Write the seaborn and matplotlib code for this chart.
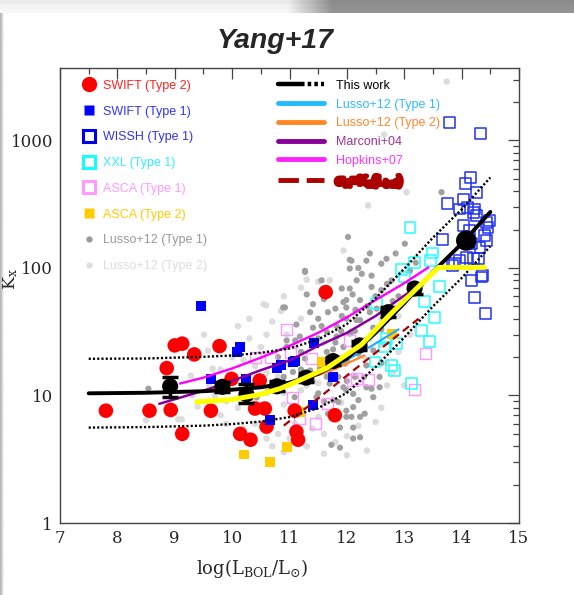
import numpy as np
import pandas as pd
import matplotlib
matplotlib.use("Agg")
import matplotlib.pyplot as plt
import seaborn as sns
from matplotlib.lines import Line2D
from matplotlib.legend_handler import HandlerTuple
import matplotlib.patheffects as pe

# ---------------- data ----------------
swift2_logL = [7.80, 8.56, 8.93, 9.13, 8.86, 9.00, 9.13, 9.34, 9.63, 9.78, 9.99, 10.48,
               10.40, 10.57, 10.60, 10.14, 10.32, 11.09, 11.12, 11.15, 11.79, 11.63]
swift2_K = [7.6, 7.6, 7.7, 5.0, 16.4, 24.7, 25.5, 21.0, 7.6, 24.4, 13.5, 13.1,
            7.9, 7.9, 5.7, 5.0, 4.5, 7.6, 5.2, 4.5, 7.0, 64.7]

swift1_logL = [9.45, 9.64, 10.08, 10.14, 10.25, 10.78, 10.86, 11.06, 11.09, 11.43, 11.76, 10.66, 11.41]
swift1_K = [50, 13.5, 21.8, 23.9, 13.5, 16.5, 17.2, 18.3, 18.8, 26, 13.9, 6.4, 8.4]

wissh_logL = [13.79, 14.33, 14.16, 14.07, 14.26, 13.76, 14.03, 14.11, 13.97, 14.23, 14.26, 14.49,
              14.46, 14.03, 14.40, 14.43, 14.14, 13.67, 14.08, 14.32, 14.17, 13.88, 14.20, 14.35,
              14.17, 14.37, 14.23, 14.42, 13.84, 14.43, 14.20, 13.97, 14.29]
wissh_K = [1390, 1137, 509, 457, 393, 318, 347, 300, 290, 290, 257, 236,
           209, 214, 180, 164, 197, 166, 121, 144, 155, 108, 118, 85,
           80, 87, 59, 44, 104, 229, 274, 114, 118]

xxl_logL = [13.10, 13.49, 13.18, 13.45, 13.62, 13.53, 13.01, 12.52, 13.36, 12.95, 12.66,
            12.86, 13.30, 13.44, 13.12, 12.77, 12.83, 12.49, 12.69]
xxl_K = [209, 131, 111, 115, 72, 41, 85, 53, 55, 98, 24,
         25.5, 32.4, 26.3, 12.5, 17.2, 15.7, 18.3, 27.9]

asca1_logL = [10.94, 10.40, 10.67, 11.01, 11.05, 11.38, 12.05, 12.10, 11.67, 11.45, 11.18,
              12.37, 12.16, 13.37, 13.18]
asca1_K = [33, 20, 20, 21.9, 9.7, 19.4, 27, 13.1, 8.6, 6.0, 6.6, 13.4, 13.5, 21.5, 11.1]

asca2_logL = [10.21, 10.66, 10.95, 11.18, 11.56, 12.78]
asca2_K = [3.45, 3.0, 3.94, 7.4, 18.3, 30.5]

lusso1_logL = [12.02, 13.01, 12.08, 12.34, 12.60, 12.69, 12.05, 12.26, 12.43, 12.78, 11.27, 11.56,
               11.91, 12.17, 11.70, 12.43, 12.60, 11.99, 12.23, 11.41, 10.92, 12.52, 11.67, 11.91,
               12.17, 11.12, 11.41, 11.65, 12.46, 11.18, 11.41, 11.82, 12.08, 10.95, 11.94, 11.65,
               11.27, 12.20, 11.97, 11.53, 12.34, 11.06, 11.85, 12.14, 11.33, 11.70, 12.34, 11.99,
               11.50, 11.01, 11.09, 11.85, 12.20, 12.46, 11.38, 11.99, 12.31, 11.67, 12.11, 11.99,
               12.23, 12.11, 12.23, 11.88, 12.43, 12.57, 11.36, 11.94, 11.67, 12.05, 11.56, 11.82,
               11.99, 12.14, 10.95, 11.76, 12.17, 11.36, 11.65, 11.94, 12.11, 11.47, 11.76, 12.08,
               11.88, 11.73, 12.11, 10.37, 10.43, 10.75, 12.05, 11.27, 10.89, 13.65, 8.54, 12.57,
               12.46, 12.05, 12.23, 11.99, 12.90, 12.75, 13.20, 12.85,
               11.20, 11.50, 11.80, 12.00, 12.30, 12.40, 11.60, 11.30, 11.80, 12.10, 12.50, 12.70,
               12.20, 12.40, 11.10, 10.80, 11.40, 11.60, 12.00, 12.30, 12.60, 12.60, 12.80, 13.10,
               11.20, 10.90, 11.90, 11.50, 12.35, 12.15]
lusso1_K = [175, 155, 114, 114, 108, 118, 99, 90, 87, 80, 95, 80,
            69, 80, 63, 71, 67, 56, 56, 52, 49, 48, 45, 42,
            39, 36, 34, 31.5, 34, 29, 27, 29, 31.5, 24, 24, 22,
            19.5, 21.3, 17.8, 16.2, 17.2, 15.3, 14, 14, 13.1, 12.4, 11.6, 11,
            10.4, 12.4, 9.7, 8.9, 9.2, 9.7, 8.1, 7.6, 7.2, 7.2, 8.1, 6.8,
            6.8, 5.6, 4.7, 3.9, 11.3, 11.6, 45, 54, 69, 69, 35, 35,
            40, 32, 27, 23, 22, 15.7, 14, 11.6, 10.3, 9.7, 9.2, 6.8,
            5.6, 4.1, 4.6, 7.4, 9.7, 11.6, 116, 93, 49, 393, 11.3, 14,
            22.6, 30.6, 39, 49, 60, 45, 110, 130,
            22, 28, 26, 19, 27, 45, 57, 62, 48, 62, 60, 75,
            100, 130, 27, 20, 13, 9, 13, 14, 18, 33, 55, 95,
            16, 14, 32, 40, 50, 47]

lusso2_logL = [13.74, 12.65, 13.04, 12.37, 11.94, 11.30, 11.50, 11.70, 10.59, 10.55, 10.85, 9.51,
               9.58, 9.28, 8.50, 9.06, 9.12, 9.66, 10.10, 10.30, 10.20, 10.50, 10.00, 10.30,
               10.60, 9.90, 10.10, 10.50, 10.70, 10.90, 11.10, 10.80, 11.40, 11.30, 10.90, 11.50,
               10.40, 10.20, 9.80, 10.60, 10.90, 11.20, 11.50, 11.80, 12.30, 12.60, 12.90, 12.40,
               12.60, 12.15, 11.20, 10.70, 10.95, 11.60, 9.90, 9.70, 11.00, 10.40, 12.80, 12.20,
               12.50, 12.60, 12.00, 11.60, 13.00, 12.70, 9.40, 9.90, 10.60, 12.35,
               10.30, 10.90, 11.20, 11.60, 10.00, 9.80, 10.20, 10.50, 10.80, 11.30, 11.00, 11.60,
               10.30, 10.70, 12.00, 11.90, 12.70, 13.10, 12.90, 11.10, 10.60, 9.60, 9.30, 10.40,
               11.80]
lusso2_K = [2900, 1110, 393, 309, 137, 81, 78, 80, 51, 52, 46, 30,
            22.4, 14.3, 6.4, 6.5, 6.5, 16.2, 35, 28, 19, 24, 14.5, 12,
            15, 9, 8, 8.5, 6.5, 8.5, 6, 5, 5.5, 4, 3.6, 6.8,
            6, 5.5, 7, 10.5, 10.5, 11, 12.5, 16.5, 20, 25, 22, 28,
            40, 45, 40, 38, 30, 26, 12.5, 10, 17.5, 17, 15, 5.8,
            6.2, 8, 4.8, 3.5, 12, 18, 8.2, 6, 4.6, 3.7,
            40, 60, 70, 65, 20, 16, 10, 13.5, 14, 12, 4.6, 5,
            4.5, 4, 3.4, 8.8, 12, 30, 42, 24, 30, 12, 10, 9,
            4.3]

# "This work" relation and its scatter
work_logL = [7.5, 8.5, 9.5, 10.0, 10.5, 11.0, 11.5, 12.0, 12.5, 13.0, 13.5, 14.0, 14.5]
work_K = [10.4, 10.5, 10.8, 11.1, 11.6, 12.6, 14.8, 19.5, 31, 53, 93, 155, 275]
work_hi_K = [19.4, 19.5, 20.1, 20.6, 21.6, 23.4, 27.5, 36.3, 57.7, 98.6, 173, 288, 512]
work_lo_K = [5.6, 5.65, 5.8, 5.97, 6.24, 6.77, 7.96, 10.5, 16.7, 28.5, 50, 83.3, 148]

bin_logL = [8.92, 9.83, 10.25, 10.78, 11.29, 11.76, 12.22, 12.72, 13.18, 14.08]
bin_K = [11.8, 11.7, 10.2, 11.8, 13.8, 18.6, 24.7, 45, 69, 164]
bin_K_lo = [9.8, 10.6, 8.7, 10.8, 12.8, 17.2, 22.8, 41, 63, 150]
bin_K_hi = [13.9, 12.8, 12.2, 12.9, 14.9, 20.1, 26.7, 49, 75, 178]

yellow_logL = [9.38, 10.0, 10.45, 10.83, 11.15, 11.65, 12.25, 12.75, 13.2, 13.6, 14.4]
yellow_K = [8.9, 9.3, 10.1, 11.3, 13.0, 16.4, 25, 43, 68, 101, 101]

hopkins_logL = [9.09, 9.5, 10.0, 10.5, 11.0, 11.5, 12.0, 12.5, 13.0, 13.42]
hopkins_K = [12.4, 13.8, 16.3, 19.8, 24.5, 31, 41, 56, 76, 101]

marconi_logL = [8.73, 9.5, 10.0, 10.5, 11.0, 11.5, 12.0, 12.5, 13.05]
marconi_K = [8.6, 10.9, 13.0, 15.8, 18.8, 24.5, 31, 42, 63]

lussoT1_logL = [10.6, 11.2, 11.8, 12.4, 12.9]
lussoT1_K = [10.8, 13.0, 17.0, 24.0, 33.0]

lussoT2_logL = [10.6, 11.2, 11.7, 12.3]
lussoT2_K = [11.0, 13.0, 15.5, 20.5]

dashed_logL = [10.9, 13.25]
dashed_K = [5.8, 40]

xticks = [7, 8, 9, 10, 11, 12, 13, 14, 15]
yticks = [1, 10, 100, 1000]
ytick_labels = ["1", "10", "100", "1000"]

# ---------------- style ----------------
sns.set_style("white")
plt.rcParams["font.family"] = ["Liberation Sans", "DejaVu Sans"]
plt.rcParams["mathtext.fontset"] = "dejavuserif"

fig = plt.figure(figsize=(5.74, 5.95), dpi=100)

# screenshot frame (top gradient bar, left strip)
bar = fig.add_axes([0, 1 - 13 / 595, 1, 13 / 595])
xx = np.linspace(0, 1, 574)
row = np.where(xx < 0.5, 0.95, np.where(xx > 0.58, 0.56, 0.95 - (xx - 0.5) / 0.08 * 0.39))
grad = np.vstack([row * 0.97, row, row * 1.02])
bar.imshow(np.clip(grad, 0, 1), cmap="gray", vmin=0, vmax=1, aspect="auto")
bar.axis("off")
strip = fig.add_axes([0, 0, 4 / 574, 1 - 13 / 595])
strip.imshow(np.array([[0.72, 0.82, 0.95]]), cmap="gray", vmin=0, vmax=1, aspect="auto")
strip.axis("off")

ax = fig.add_axes([60 / 574, 1 - 523 / 595, 459 / 574, 455 / 595])
ax.set_yscale("log")

# scatter clouds
sns.scatterplot(x=lusso2_logL, y=lusso2_K, ax=ax, color="#dcdcdc", s=22, edgecolor="none", zorder=1)
sns.scatterplot(x=lusso1_logL, y=lusso1_K, ax=ax, color="#a0a0a0", s=20, edgecolor="none", zorder=1.2)
sns.scatterplot(x=asca1_logL, y=asca1_K, ax=ax, marker="s", s=62, color="#ff99ff",
                facecolor="none", edgecolor="#ff99ff", linewidth=1.0, zorder=2)
sns.scatterplot(x=xxl_logL, y=xxl_K, ax=ax, marker="s", s=62, color="#22ffff",
                facecolor="none", edgecolor="#22ffff", linewidth=1.1, zorder=2.1)
sns.scatterplot(x=wissh_logL, y=wissh_K, ax=ax, marker="s", s=62, color="#2233ee",
                facecolor="none", edgecolor="#2233ee", linewidth=1.1, zorder=2.2)
sns.scatterplot(x=asca2_logL, y=asca2_K, ax=ax, marker="s", s=50, color="#ffcc00",
                edgecolor="none", zorder=2.3)
sns.scatterplot(x=swift2_logL, y=swift2_K, ax=ax, marker="o", s=110, color="#ff0000",
                edgecolor="none", zorder=3)
sns.scatterplot(x=swift1_logL, y=swift1_K, ax=ax, marker="s", s=52, color="#0000ff",
                edgecolor="none", zorder=3.5)

# literature relations
sns.lineplot(x=lussoT1_logL, y=lussoT1_K, ax=ax, color="#22aaff", lw=1.6, zorder=4)
sns.lineplot(x=lussoT2_logL, y=lussoT2_K, ax=ax, color="#ff8822", lw=1.6, zorder=4)
sns.lineplot(x=marconi_logL, y=marconi_K, ax=ax, color="#880099", lw=1.8, zorder=4.1)
sns.lineplot(x=hopkins_logL, y=hopkins_K, ax=ax, color="#ff00ff", lw=1.7, zorder=4.2)
sns.lineplot(x=dashed_logL, y=dashed_K, ax=ax, color="#aa0000", lw=1.6,
             linestyle=(0, (3.5, 2.2)), zorder=4.3)

# this work
sns.lineplot(x=work_logL, y=work_hi_K, ax=ax, color="black", lw=1.7, linestyle=(0, (0.9, 0.9)), zorder=4.5)
sns.lineplot(x=work_logL, y=work_lo_K, ax=ax, color="black", lw=1.7, linestyle=(0, (0.9, 0.9)), zorder=4.5)
sns.lineplot(x=work_logL, y=work_K, ax=ax, color="black", lw=2.8, zorder=5)
yerr = [np.array(bin_K) - np.array(bin_K_lo), np.array(bin_K_hi) - np.array(bin_K)]
ax.errorbar(bin_logL, bin_K, yerr=yerr, fmt="none", ecolor="black", elinewidth=2.5,
            capsize=6, capthick=2.5, zorder=5.5)
bin_sizes = [135] * (len(bin_logL) - 1) + [215]
sns.scatterplot(x=bin_logL, y=bin_K, ax=ax, marker="o", s=bin_sizes, color="black",
                edgecolor="none", zorder=5.6)
sns.lineplot(x=yellow_logL, y=yellow_K, ax=ax, color="#ffff00", lw=3.6, zorder=6)

# axes
ax.set_xlim(7, 15)
ax.set_ylim(1, 3700)
ax.set_xticks(xticks)
ax.set_xticks(np.arange(7.5, 15, 1.0), minor=True)
ax.set_yticks(yticks)
ax.set_yticklabels(ytick_labels)
ax.yaxis.set_minor_locator(matplotlib.ticker.LogLocator(base=10, subs=np.arange(2, 10)))
ax.yaxis.set_minor_formatter(matplotlib.ticker.NullFormatter())
ax.tick_params(which="both", direction="in", top=True, right=True, color="#444444", width=0.9,
               labelsize=12, labelfontfamily="DejaVu Serif", pad=5)
ax.tick_params(which="major", length=8)
ax.tick_params(which="minor", length=4)
for sp in ax.spines.values():
    sp.set_color("#444444")
    sp.set_linewidth(1.0)

ax.set_xlabel(r"$\mathrm{log(L_{BOL}/L_{\odot})}$", fontsize=13)
ax.xaxis.set_label_coords(0.42, -0.075)
ax.set_ylabel(r"$\mathrm{K_x}$", fontsize=12.5)
ax.yaxis.set_label_coords(-0.087, 0.535)

fig.text(275 / 574, 1 - 41 / 595, "Yang+17", ha="center", va="center", fontsize=20.5,
         fontweight="bold", fontstyle="italic", family="Liberation Sans")

# legend 1: samples
h1 = [
    Line2D([], [], ls="None", marker="o", ms=11, mfc="#ff0000", mec="none"),
    Line2D([], [], ls="None", marker="s", ms=7.5, mfc="#0000ff", mec="none"),
    Line2D([], [], ls="None", marker="s", ms=8.5, mfc="none", mec="#0000ee", mew=2.2),
    Line2D([], [], ls="None", marker="s", ms=8.5, mfc="none", mec="#11ffff", mew=2.2),
    Line2D([], [], ls="None", marker="s", ms=8.5, mfc="none", mec="#ff99ff", mew=2.2),
    Line2D([], [], ls="None", marker="s", ms=7.5, mfc="#ffcc00", mec="none"),
    Line2D([], [], ls="None", marker="o", ms=4.5, mfc="#999999", mec="none"),
    Line2D([], [], ls="None", marker="o", ms=4.5, mfc="#dddddd", mec="none"),
]
l1 = ["SWIFT (Type 2)", "SWIFT (Type 1)", "WISSH (Type 1)", "XXL (Type 1)",
      "ASCA (Type 1)", "ASCA (Type 2)", "Lusso+12 (Type 1)", "Lusso+12 (Type 2)"]
c1 = ["#ff2222", "#3333ff", "#3333ee", "#33eeff", "#ff99ff", "#ffcc00", "#999999", "#dddddd"]
leg1 = ax.legend(h1, l1, loc="upper left", bbox_to_anchor=(0.047, 0.974), frameon=False,
                 fontsize=9, handlelength=1.2, handletextpad=0.5, labelspacing=1.1,
                 borderpad=0, borderaxespad=0, labelcolor=c1)
ax.add_artist(leg1)

# legend 2: relations
h2 = [
    (Line2D([], [], color="black", lw=3.2), Line2D([], [], color="black", lw=3.2, ls=(0, (0.8, 0.7)))),
    Line2D([], [], color="#22bbff", lw=3.5),
    Line2D([], [], color="#ff8822", lw=3.5),
    Line2D([], [], color="#880099", lw=3.5),
    Line2D([], [], color="#ff22ff", lw=3.5),
    Line2D([], [], color="#aa0000", lw=3.5, ls=(0, (4.2, 1.6))),
]
l2 = ["This work", "Lusso+12 (Type 1)", "Lusso+12 (Type 2)", "Marconi+04", "Hopkins+07",
      r"σ$_\mathregular{K}$=K$_\mathregular{x}$(L$_\mathregular{bol}$)"]
c2 = ["black", "#33bbff", "#ff8833", "#993399", "#ff33ff", "#aa0000"]
leg2 = ax.legend(h2, l2, loc="upper left", bbox_to_anchor=(0.475, 0.974), frameon=False,
                 fontsize=9, handlelength=3.7, handletextpad=0.9, labelspacing=0.54,
                 borderpad=0, borderaxespad=0, labelcolor=c2,
                 handler_map={tuple: HandlerTuple(ndivide=2, pad=0.0)})
last = leg2.get_texts()[-1]
last.set_fontweight("bold")
last.set_path_effects([pe.withStroke(linewidth=3.5, foreground="#aa0000")])

fig.savefig("out.png", dpi=100)
